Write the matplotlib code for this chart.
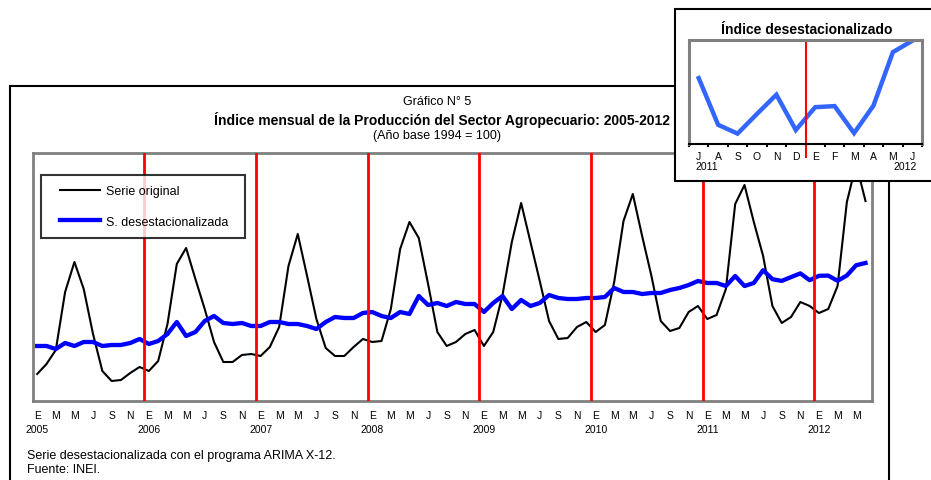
import matplotlib
matplotlib.use('Agg')
import matplotlib.pyplot as plt
import matplotlib.transforms as mtransforms
from matplotlib.patches import Rectangle
from matplotlib.legend_handler import HandlerLine2D
import numpy as np

plt.rcParams['font.family'] = ['Liberation Sans', 'DejaVu Sans']

meses = ['E', 'F', 'M', 'A', 'M', 'J', 'J', 'A', 'S', 'O', 'N', 'D']
anios = [2005, 2006, 2007, 2008, 2009, 2010, 2011, 2012]

# indice mensual, ene-2005 a jun-2012
serie_original = [107, 117, 131, 189, 219, 192, 147, 110, 100, 101, 108, 114,
                  110, 120, 157, 217, 233, 202, 172, 139, 119, 119, 126, 127,
                  125, 134, 154, 215, 247, 205, 162, 133, 125, 125, 134, 142,
                  139, 140, 172, 232, 259, 243, 197, 149, 135, 139, 147, 151,
                  135, 149, 186, 239, 278, 239, 200, 160, 142, 143, 154, 159,
                  149, 156, 199, 260, 287, 245, 205, 160, 150, 153, 169, 175,
                  162, 166, 192, 277, 296, 259, 225, 175, 158, 164, 179, 175,
                  168, 172, 195, 279, 317, 280]
serie_desest = [135, 135, 132, 138, 135, 139, 139, 135, 136, 136, 138, 142,
                137, 140, 147, 159, 145, 149, 160, 165, 158, 157, 158, 155,
                155, 159, 159, 157, 157, 155, 152, 159, 164, 163, 163, 168,
                169, 165, 163, 169, 167, 185, 176, 178, 175, 179, 177, 177,
                169, 178, 185, 172, 181, 175, 178, 186, 183, 182, 182, 183,
                183, 184, 193, 189, 189, 187, 188, 188, 191, 193, 196, 200,
                198, 198, 195, 205, 195, 198, 210.8, 201.8, 200.1, 203.9, 207.6, 200.8,
                205.2, 205.4, 200.2, 205.5, 215.8, 218.0]

x = np.arange(len(serie_original))

fig = plt.figure(figsize=(9.31, 4.81), dpi=100)

# marco exterior del grafico
fig.add_artist(Rectangle((10 / 931, -0.1), 879 / 931, 0.919, transform=fig.transFigure,
                         fill=False, ec='black', lw=1.5, zorder=1))

ax = fig.add_axes([33 / 931, 1 - 402 / 481, 839 / 931, 248 / 481])
l1, = ax.plot(x, serie_original, color='black', lw=1.5, zorder=2, label='Serie original')
l2, = ax.plot(x, serie_desest, color='#0000ff', lw=3.1, zorder=3, label='S. desestacionalizada')
for k in range(1, len(anios)):
    ax.axvline(12 * k - 0.5, color='red', lw=2, zorder=4)

ax.set_xlim(-0.45, 89.7)
ax.set_ylim(80, 328)
ax.set_yticks([])
ticks = np.arange(0, len(x), 2)
etiquetas = []
for t in ticks:
    s = meses[t % 12]
    if t % 12 == 0:
        s += '\n' + str(anios[t // 12])
    etiquetas.append(s)
ax.set_xticks(ticks)
ax.set_xticklabels(etiquetas, fontsize=7.5)
for lbl in ax.get_xticklabels():
    lbl.set_linespacing(1.5)
ax.tick_params(axis='x', length=0, pad=6.5)
for sp in ax.spines.values():
    sp.set_color('#808080')
    sp.set_linewidth(2)

leg = ax.legend(handles=[l1, l2], loc='upper left',
                bbox_to_anchor=(8 / 839, 0.665, 204 / 839, 0.246), mode='expand',
                borderaxespad=0, fontsize=9, frameon=True, fancybox=False, borderpad=0.8,
                labelspacing=1.5, handlelength=3.9, handletextpad=0.5,
                handler_map={l1: HandlerLine2D(xpad=0.75), l2: HandlerLine2D(xpad=0.75)})
leg.get_frame().set_edgecolor('black')
leg.get_frame().set_linewidth(1.5)
leg.set_zorder(5)

narrow = ['Liberation Sans Narrow', 'Liberation Sans']
fig.text(437 / 931, 1 - 102 / 481, 'Gráfico N° 5', ha='center', va='center',
         fontsize=9, family=narrow)
fig.text(442 / 931, 1 - 120 / 481,
         'Índice mensual de la Producción del Sector Agropecuario: 2005-2012',
         ha='center', va='center', fontsize=10, fontweight='bold', family=narrow)
fig.text(437 / 931, 1 - 136 / 481, '(Año base 1994 = 100)', ha='center', va='center',
         fontsize=9, family=narrow)

fig.text(27 / 931, 1 - 456 / 481, 'Serie desestacionalizada con el programa ARIMA X-12.',
         ha='left', va='center', fontsize=9)
fig.text(27 / 931, 1 - 470 / 481, 'Fuente: INEI.', ha='left', va='center', fontsize=9)

# recuadro con el indice desestacionalizado de los ultimos 12 meses
fig.add_artist(Rectangle((675 / 931, 1 - 182 / 481), 0.4, 172 / 481, transform=fig.transFigure,
                         fc='white', ec='black', lw=1.5, zorder=2))
fig.text(807 / 931, 1 - 30 / 481, 'Índice desestacionalizado', ha='center', va='center',
         fontsize=10, fontweight='bold', zorder=3)

ult = serie_desest[-12:]
meses_ult = meses[6:] + meses[:6]
ax2 = fig.add_axes([689 / 931, 1 - 145 / 481, 233 / 931, 104.3 / 481])
ax2.set_zorder(3)
xi = np.arange(len(ult))
ax2.plot(xi, ult, color='#3366ff', lw=3.2, solid_joinstyle='miter')
ax2.axvline(5.5, ymin=-0.12, ymax=0.975, color='red', lw=1.5, clip_on=False)
ax2.set_xlim(-0.5, 11.5)
ax2.set_ylim(198.1, 218.2)
ax2.set_yticks([])
ax2.set_xticks(xi)
ax2.set_xticklabels(meses_ult, fontsize=7.5)
ax2.set_xticks(np.arange(-0.5, 12, 1), minor=True)
ax2.tick_params(axis='x', which='major', length=0, pad=5)
ax2.tick_params(axis='x', which='minor', length=2.5, width=1.5, color='black')
for s in ['left', 'top', 'right']:
    ax2.spines[s].set_color('#808080')
    ax2.spines[s].set_linewidth(2.2)
ax2.spines['bottom'].set_color('black')
ax2.spines['bottom'].set_linewidth(1.5)
tr = mtransforms.blended_transform_factory(ax2.transData, ax2.transAxes)
ax2.text(0.41, -0.21, '2011', transform=tr, ha='center', va='center', fontsize=7.5)
ax2.text(10.64, -0.21, '2012', transform=tr, ha='center', va='center', fontsize=7.5)

fig.savefig('out.png', dpi=100)
